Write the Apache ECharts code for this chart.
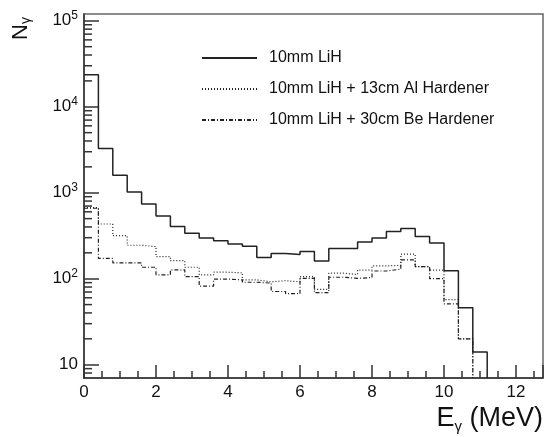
<!DOCTYPE html>
<html>
<head>
	<meta charset="utf-8"/>
	<title>E_gamma spectrum</title>
	<script src="https://cdn.jsdelivr.net/npm/echarts@6.0.0/dist/echarts.min.js"></script>
	<style>
		html, body { margin: 0; padding: 0; background: #fff; }
		#chart { width: 544px; height: 437px; }
	</style>
</head>
<body>
<div id="chart"></div>
<script>
// bin edges in MeV (0.4 MeV bins)
var binEdges = [0, 0.4, 0.8, 1.2, 1.6, 2.0, 2.4, 2.8, 3.2, 3.6, 4.0, 4.4, 4.8, 5.2, 5.6, 6.0,
	6.4, 6.8, 7.2, 7.6, 8.0, 8.4, 8.8, 9.2, 9.6, 10.0, 10.4, 10.8, 11.2];

// counts per bin
var lih = [23600, 3260, 1600, 1020, 741, 537, 404, 338, 298, 277, 254, 239, 176, 196, 191, 207,
	161, 224, 224, 268, 298, 353, 383, 309, 261, 124, 46, 14];
var lihAl = [670, 433, 317, 245, 236, 181, 162, 136, 111, 119, 117, 97, 92, 95, 92, 106,
	75, 116, 112, 126, 141, 143, 193, 138, 126, 57, 20];
var lihBe = [660, 172, 153, 153, 136, 111, 127, 106, 82, 99, 97, 91, 89, 71, 67, 101,
	69, 104, 101, 103, 123, 129, 166, 138, 100, 51, 20];

var seriesNames = ['10mm LiH', '10mm LiH + 13cm Al Hardener', '10mm LiH + 30cm Be Hardener'];

// log axis minor ticks
var yMinorTicks = [8, 9, 20, 30, 40, 50, 60, 70, 80, 90, 200, 300, 400, 500, 600, 700, 800, 900,
	2000, 3000, 4000, 5000, 6000, 7000, 8000, 9000, 20000, 30000, 40000, 50000, 60000, 70000, 80000, 90000];

var xMin = 0, xMax = 12.75;
var yMin = 7, yMax = 120000;

var FONT = '"Liberation Sans", Arial, Helvetica, sans-serif';
var INK = '#222';

// turn bin contents into points for a stepped line, closing down to the floor
function histPoints(vals) {
	var pts = [];
	for (var i = 0; i < vals.length; i++) {
		pts.push([binEdges[i], vals[i]]);
	}
	var end = binEdges[vals.length];
	pts.push([end, vals[vals.length - 1]]);
	pts.push([end, yMin]);
	return pts;
}

function histSeries(name, vals, dash, width) {
	return {
		name: name,
		type: 'line',
		step: 'end',
		data: histPoints(vals),
		symbol: 'none',
		showSymbol: false,
		lineStyle: { color: INK, width: width, type: dash },
		itemStyle: { color: INK },
		emphasis: { disabled: true }
	};
}

var myChart = echarts.init(document.getElementById('chart'), null, { renderer: 'canvas' });

var option = {
	animation: false,
	backgroundColor: '#fff',
	textStyle: { fontFamily: FONT },
	grid: {
		left: 84, right: 1, top: 14, bottom: 59,
		show: true, borderColor: '#666', borderWidth: 1.5,
		outerBoundsMode: 'none'
	},
	legend: {
		orient: 'vertical',
		left: 196, top: 45,
		itemWidth: 55, itemHeight: 16, itemGap: 15,
		selectedMode: false,
		data: seriesNames,
		itemStyle: { opacity: 0 },
		textStyle: { fontFamily: FONT, fontSize: 16, color: '#111', padding: [0, 0, 0, 7] }
	},
	xAxis: {
		type: 'value',
		min: xMin, max: xMax, interval: 2,
		axisLine: { lineStyle: { color: '#333', width: 1.5 } },
		axisTick: { inside: true, length: 13, lineStyle: { color: '#333', width: 1.5 } },
		minorTick: { show: true, splitNumber: 4, length: 7, lineStyle: { color: '#333', width: 1.5 } },
		axisLabel: { showMaxLabel: false, fontSize: 17, color: '#111', margin: 6, fontFamily: FONT },
		splitLine: { show: false },
		name: '{e|E}{g|γ}{e| (MeV)}',
		nameLocation: 'end',
		nameGap: 0,
		nameTextStyle: {
			align: 'right', verticalAlign: 'top', padding: [26, 0, 0, 0],
			rich: {
				e: { fontSize: 27, color: '#111', fontFamily: FONT, lineHeight: 30 },
				g: { fontSize: 15, color: '#111', fontFamily: FONT, verticalAlign: 'bottom', lineHeight: 22 }
			}
		}
	},
	yAxis: {
		type: 'log',
		logBase: 10,
		min: yMin, max: yMax,
		axisLine: { show: true, lineStyle: { color: '#333', width: 1.5 } },
		axisTick: { show: true, inside: true, length: 15, lineStyle: { color: '#333', width: 1.5 } },
		axisLabel: {
			showMinLabel: false, showMaxLabel: false, margin: 6,
			formatter: function (v) {
				var p = Math.round(Math.log10(v));
				return p === 1 ? '{b|10}' : '{b|10}{s|' + p + '}';
			},
			rich: {
				b: { fontSize: 17, color: '#111', fontFamily: FONT, lineHeight: 22 },
				s: { fontSize: 12, color: '#111', fontFamily: FONT, verticalAlign: 'top', lineHeight: 14 }
			}
		},
		splitLine: { show: false },
		name: '{n|N}{s|γ}',
		nameLocation: 'end',
		nameRotate: 90,
		nameGap: -3,
		nameTextStyle: {
			align: 'right', verticalAlign: 'bottom', padding: [0, 0, 51, 0],
			rich: {
				n: { fontSize: 22, color: '#111', fontFamily: FONT, lineHeight: 24 },
				s: { fontSize: 14, color: '#111', fontFamily: FONT, verticalAlign: 'bottom', lineHeight: 12 }
			}
		}
	},
	series: [
		histSeries(seriesNames[0], lih, 'solid', 1.5),
		histSeries(seriesNames[1], lihAl, [1, 2], 1.2),
		histSeries(seriesNames[2], lihBe, [4, 2, 1, 2], 1.2),
		{
			// short minor ticks on the log axis
			type: 'custom',
			silent: true,
			data: yMinorTicks.map(function (v) { return [xMin, v]; }),
			renderItem: function (params, api) {
				var p = api.coord([api.value(0), api.value(1)]);
				return {
					type: 'line',
					shape: { x1: p[0], y1: p[1], x2: p[0] + 8, y2: p[1] },
					style: { stroke: '#333', lineWidth: 1.5 }
				};
			},
			z: 5
		}
	]
};

myChart.setOption(option);
</script>
</body>
</html>
